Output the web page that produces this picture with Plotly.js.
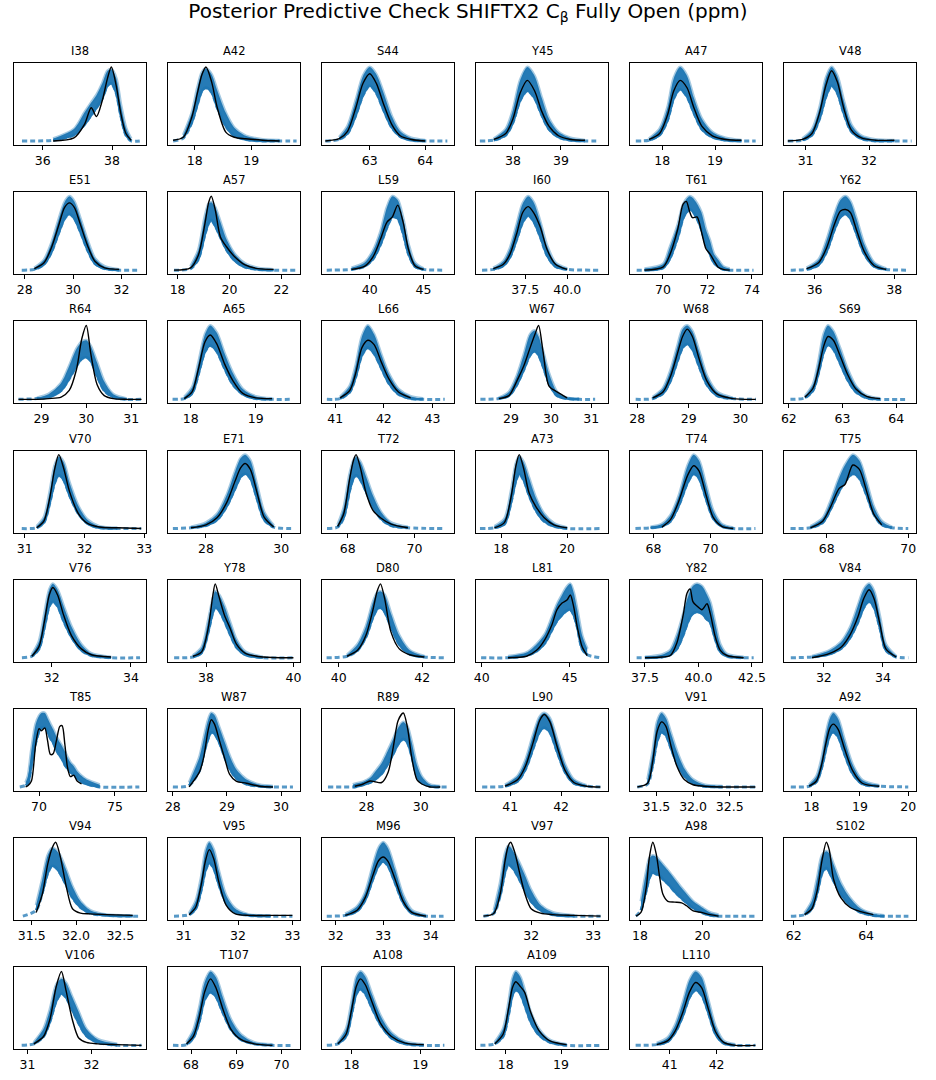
<!DOCTYPE html>
<html><head><meta charset="utf-8">
<script src="https://cdn.plot.ly/plotly-3.0.1.min.js"></script>
<style>body{margin:0;background:#fff}#chart{width:936px;height:1080px}</style>
</head><body><div id="chart"></div>
<script>
const names = ['I38','A42','S44','Y45','A47','V48','E51','A57','L59','I60','T61','Y62','R64','A65','L66','W67','W68','S69','V70','E71','T72','A73','T74','T75','V76','Y78','D80','L81','Y82','V84','T85','W87','R89','L90','V91','A92','V94','V95','M96','V97','A98','S102','V106','T107','A108','A109','L110'];

const xRanges = [
[35.17,38.98],[17.53,19.86],[62.14,64.52],[37.23,39.98],[17.39,19.89],[30.66,32.74],
[27.56,33.01],[17.63,22.72],[35.56,47.83],[34.57,42.43],[68.52,74.45],[35.23,38.55],
[28.39,31.33],[17.65,19.68],[40.73,43.44],[28.13,31.42],[27.86,30.42],[61.91,64.37],
[30.82,33.03],[26.99,30.5],[67.23,71.18],[17.24,21.24],[67.18,71.81],[66.95,70.19],
[31.05,34.38],[37.13,40.15],[39.6,42.76],[39.68,47.18],[36.8,42.97],[30.65,35.12],
[68.35,77.05],[27.91,30.35],[26.36,31.23],[40.33,42.92],[31.14,32.94],[17.43,20.16],
[31.3,32.79],[30.71,33.14],[31.71,34.49],[31.11,33.24],[17.68,21.9],[61.73,65.38],
[30.79,32.85],[67.49,70.41],[17.57,19.49],[17.46,19.85],[40.15,42.97]];

const tickLabels = [
['36','38'],['18','19'],['63','64'],['38','39'],['18','19'],['31','32'],
['28','30','32'],['18','20','22'],['40','45'],['37.5','40.0'],['70','72','74'],['36','38'],
['29','30','31'],['18','19'],['41','42','43'],['29','30','31'],['28','29','30'],['62','63','64'],
['31','32','33'],['28','30'],['68','70'],['18','20'],['68','70'],['68','70'],
['32','34'],['38','40'],['40','42'],['40','45'],['37.5','40.0','42.5'],['32','34'],
['70','75'],['28','29','30'],['28','30'],['41','42'],['31.5','32.0','32.5'],['18','19','20'],
['31.5','32.0','32.5'],['31','32','33'],['32','33','34'],['32','33'],['18','20'],['62','64'],
['31','32'],['68','69','70'],['18','19'],['18','19'],['41','42']];

const gridX = [
[35.4,36.3,36.9,37.2,37.4,37.55,37.72,37.87,37.98,38.12,38.25,38.4,38.55,38.8],
[17.62,17.8,17.95,18.05,18.13,18.2,18.3,18.4,18.55,18.7,18.9,19.2,19.5,19.8],
[62.2,62.45,62.6,62.75,62.88,63.0,63.12,63.25,63.4,63.55,63.75,64.0,64.4],
[37.31,37.6,37.85,38.0,38.15,38.3,38.45,38.6,38.75,38.95,39.2,39.5,39.8],
[17.5,17.75,17.95,18.1,18.22,18.34,18.47,18.6,18.75,18.95,19.2,19.5,19.77],
[30.72,30.95,31.1,31.22,31.32,31.41,31.5,31.6,31.72,31.88,32.1,32.4,32.67],
[27.88,28.4,28.8,29.1,29.4,29.65,29.85,30.05,30.3,30.6,30.9,31.3,31.9,32.77],
[17.86,18.5,18.8,19.05,19.2,19.3,19.45,19.65,19.88,20.2,20.6,21.1,21.7,22.58],
[36.0,38.3,39.5,40.3,41.0,41.6,42.1,42.6,43.1,43.6,44.2,45.0,46.94],
[34.93,35.6,36.2,36.6,37.0,37.35,37.68,38.0,38.4,38.8,39.3,40.0,41.96],
[68.82,69.17,70.0,70.3,70.67,70.9,71.05,71.2,71.33,71.53,71.73,71.93,72.11,72.29,72.48,72.71,73.0,74.07],
[35.4,35.8,36.1,36.3,36.5,36.65,36.78,36.9,37.05,37.25,37.5,37.8,38.36],
[28.49,28.9,29.16,29.44,29.62,29.78,29.9,30.0,30.1,30.24,30.4,30.6,30.9,31.23],
[17.72,17.9,18.02,18.12,18.22,18.3,18.4,18.52,18.65,18.8,19.0,19.25,19.57],
[40.83,41.1,41.3,41.42,41.55,41.67,41.8,41.95,42.1,42.3,42.55,42.8,43.25],
[28.24,28.7,28.95,29.15,29.32,29.48,29.6,29.69,29.8,29.95,30.15,30.4,30.7,31.1],
[27.97,28.3,28.5,28.65,28.78,28.88,28.97,29.07,29.2,29.35,29.55,29.85,30.3],
[62.03,62.3,62.45,62.55,62.65,62.73,62.83,62.95,63.1,63.25,63.45,63.7,64.22],
[30.95,31.2,31.32,31.42,31.5,31.57,31.65,31.75,31.9,32.05,32.25,32.55,32.95],
[27.12,27.6,28.0,28.3,28.55,28.78,28.92,29.04,29.18,29.35,29.55,29.8,30.32],
[67.38,67.7,67.88,68.05,68.17,68.25,68.38,68.55,68.75,69.0,69.3,69.8,70.89],
[17.36,17.8,18.1,18.3,18.45,18.55,18.68,18.85,19.05,19.3,19.6,20.0,20.99],
[67.37,67.9,68.3,68.6,68.9,69.2,69.41,69.6,69.85,70.1,70.4,70.8,71.58],
[67.11,67.6,67.9,68.1,68.3,68.45,68.64,68.8,68.98,69.15,69.35,69.6,70.0],
[31.25,31.5,31.68,31.82,31.94,32.03,32.15,32.3,32.5,32.75,33.0,33.5,34.23],
[37.27,37.7,37.9,38.05,38.15,38.21,38.3,38.42,38.55,38.7,38.9,39.3,40.0],
[39.71,40.2,40.45,40.65,40.82,40.92,41.0,41.1,41.25,41.45,41.7,42.05,42.53],
[39.97,41.5,42.55,43.12,43.6,44.0,44.28,44.57,44.85,45.04,45.23,45.43,45.71,46.0,46.77],
[37.11,37.5,38.3,38.68,38.99,39.3,39.46,39.61,39.74,39.93,40.16,40.4,40.55,40.79,41.02,41.33,42.11,42.58],
[30.88,31.6,32.2,32.6,32.9,33.15,33.35,33.53,33.7,33.9,34.1,34.45,34.86],
[68.73,69.12,69.28,69.5,69.78,70.0,70.16,70.38,70.56,70.75,70.93,71.15,71.37,71.52,71.7,71.88,72.07,72.29,72.51,72.8,73.13,74.0,76.61],
[28.0,28.3,28.49,28.57,28.65,28.71,28.77,28.86,28.96,29.05,29.17,29.36,29.6,29.85,30.22],
[26.58,27.5,27.57,27.88,28.13,28.31,28.56,28.8,28.99,29.17,29.36,29.51,29.67,29.86,30.04,30.35,30.72,31.0],
[40.45,40.9,41.15,41.3,41.45,41.58,41.67,41.78,41.92,42.08,42.25,42.5,42.77],
[31.24,31.38,31.45,31.51,31.57,31.63,31.7,31.78,31.88,32.0,32.15,32.4,32.85],
[17.57,17.95,18.1,18.2,18.3,18.38,18.45,18.55,18.68,18.85,19.05,19.4,20.0],
[31.4,31.55,31.62,31.68,31.73,31.77,31.82,31.89,31.96,32.05,32.16,32.35,32.64,32.72],
[30.82,31.1,31.22,31.32,31.4,31.47,31.55,31.65,31.78,31.95,32.2,32.6,33.0],
[31.81,32.2,32.45,32.62,32.78,32.9,33.0,33.1,33.25,33.42,33.6,33.9,34.27],
[31.23,31.4,31.5,31.58,31.63,31.67,31.73,31.81,31.9,32.0,32.15,32.35,32.7,33.12],
[17.87,18.03,18.2,18.3,18.41,18.52,18.63,18.73,18.89,19.11,19.33,19.49,19.7,19.97,20.24,20.51,21.69],
[61.92,62.3,62.5,62.65,62.78,62.9,62.98,63.1,63.3,63.55,63.85,64.2,64.5,65.17],
[30.91,31.1,31.25,31.35,31.45,31.53,31.6,31.7,31.8,31.92,32.1,32.4,32.78],
[67.6,67.9,68.05,68.18,68.3,68.43,68.55,68.7,68.88,69.1,69.4,69.8,70.27],
[17.64,17.8,17.92,18.0,18.07,18.13,18.2,18.3,18.42,18.58,18.78,19.05,19.35],
[17.54,17.8,17.95,18.05,18.12,18.18,18.26,18.34,18.45,18.6,18.8,19.1,19.72],
[40.27,40.72,40.95,41.12,41.28,41.42,41.55,41.68,41.82,41.98,42.15,42.4,42.83]];

const obsY = [
[null,0.0,0.04,0.22,0.45,0.33,0.55,0.85,1.0,0.75,0.38,0.1,0.01,null],
[0.01,0.05,0.32,0.65,0.9,1.0,0.8,0.45,0.12,0.05,0.03,0.01,0.0,null],
[0.0,0.03,0.13,0.45,0.78,0.91,0.78,0.5,0.22,0.07,0.02,0.0,null],
[null,0.02,0.1,0.3,0.65,0.82,0.68,0.4,0.2,0.07,0.02,0.01,null],
[null,0.02,0.1,0.35,0.68,0.82,0.72,0.45,0.2,0.07,0.02,0.01,null],
[0.0,0.02,0.1,0.38,0.75,0.95,0.8,0.45,0.15,0.04,0.01,0.01,null],
[null,0.02,0.1,0.3,0.6,0.85,0.91,0.85,0.62,0.33,0.12,0.03,0.01,null],
[0.0,0.03,0.2,0.62,0.92,1.0,0.82,0.45,0.32,0.18,0.07,0.02,0.01,null],
[null,0.01,0.05,0.18,0.42,0.65,0.72,0.88,0.65,0.28,0.06,0.01,null],
[null,0.02,0.08,0.22,0.5,0.78,0.86,0.78,0.58,0.28,0.08,0.01,null],
[null,0.0,0.04,0.2,0.56,0.89,0.93,0.79,0.71,0.72,0.52,0.29,0.22,0.13,0.04,0.01,0.0,null],
[null,0.02,0.1,0.3,0.62,0.8,0.82,0.78,0.55,0.25,0.06,0.01,null],
[0.0,0.0,0.01,0.03,0.12,0.4,0.82,1.0,0.62,0.2,0.05,0.01,0.0,0.0],
[null,0.01,0.1,0.42,0.78,0.87,0.75,0.48,0.25,0.08,0.02,0.01,null],
[null,0.02,0.12,0.35,0.7,0.8,0.74,0.5,0.28,0.1,0.02,null,null],
[null,0.01,0.05,0.25,0.45,0.7,0.88,1.0,0.65,0.18,0.1,0.02,null,null],
[null,0.02,0.1,0.32,0.62,0.85,0.95,0.85,0.55,0.25,0.07,0.01,0.0],
[null,0.03,0.15,0.4,0.72,0.85,0.8,0.6,0.33,0.14,0.04,0.01,null],
[null,0.01,0.1,0.42,0.8,1.0,0.82,0.5,0.2,0.07,0.02,0.01,0.0],
[null,0.01,0.05,0.15,0.35,0.65,0.82,0.88,0.8,0.5,0.15,0.02,null],
[null,0.03,0.2,0.65,0.92,1.0,0.82,0.48,0.25,0.14,0.06,0.01,null],
[null,0.01,0.08,0.42,0.85,1.0,0.82,0.48,0.3,0.15,0.05,0.01,null],
[null,null,0.02,0.12,0.38,0.72,0.85,0.78,0.45,0.15,0.03,0.0,null],
[null,0.01,0.1,0.3,0.54,0.6,0.86,0.8,0.5,0.2,0.05,null,null],
[null,0.02,0.15,0.5,0.85,0.95,0.85,0.58,0.3,0.12,0.04,0.01,null],
[null,0.02,0.08,0.4,0.82,1.0,0.82,0.58,0.4,0.18,0.06,0.01,0.0],
[null,0.02,0.1,0.3,0.65,0.9,1.0,0.8,0.35,0.12,0.04,0.01,null],
[null,0.0,0.02,0.1,0.25,0.45,0.65,0.74,0.78,0.85,0.69,0.42,0.15,0.03,null],
[null,0.0,0.01,0.03,0.2,0.6,0.87,0.93,0.76,0.7,0.65,0.73,0.6,0.28,0.1,0.03,0.0,null],
[null,0.0,0.06,0.15,0.32,0.55,0.8,0.92,0.8,0.45,0.12,0.01,null],
[null,0.0,0.02,0.08,0.58,0.79,0.76,0.8,0.63,0.44,0.45,0.63,0.82,0.83,0.58,0.26,0.14,0.16,0.08,0.04,null,null,null],
[null,0.0,0.2,0.4,0.76,0.91,0.85,0.63,0.38,0.17,0.08,0.05,0.01,0.0,null],
[null,null,0.01,0.04,0.08,0.07,0.06,0.2,0.54,0.9,1.0,0.81,0.4,0.1,0.04,0.0,0.0,null],
[null,0.01,0.1,0.28,0.6,0.9,0.98,0.88,0.55,0.22,0.06,0.01,0.0],
[0.0,0.05,0.35,0.75,0.88,0.82,0.55,0.28,0.1,0.03,0.01,0.0,0.0],
[null,0.01,0.08,0.28,0.6,0.8,0.85,0.78,0.52,0.22,0.05,0.01,null],
[null,0.05,0.3,0.7,0.92,1.0,0.82,0.4,0.1,0.04,0.03,0.02,0.01,null],
[null,0.02,0.12,0.42,0.75,0.9,0.78,0.45,0.15,0.03,0.01,0.01,0.01],
[null,0.01,0.08,0.25,0.55,0.75,0.8,0.74,0.5,0.2,0.05,0.0,null],
[0.0,0.04,0.3,0.75,0.95,1.0,0.88,0.6,0.3,0.1,0.04,0.02,0.01,0.0],
[0.0,0.05,0.39,0.8,1.0,0.84,0.52,0.3,0.2,0.19,0.18,0.14,0.07,0.05,0.02,0.0,null],
[null,0.02,0.1,0.35,0.75,1.0,0.9,0.5,0.25,0.12,0.06,0.02,null,null],
[null,0.02,0.12,0.35,0.8,1.0,0.75,0.35,0.1,0.04,0.02,0.01,0.0],
[null,0.02,0.12,0.38,0.72,0.9,0.78,0.5,0.22,0.08,0.02,0.0,null],
[null,0.02,0.15,0.48,0.8,0.9,0.82,0.58,0.3,0.12,0.03,0.01,null],
[null,0.02,0.15,0.5,0.78,0.86,0.8,0.72,0.45,0.2,0.06,0.01,null],
[null,0.01,0.06,0.2,0.45,0.72,0.85,0.78,0.5,0.18,0.04,0.0,0.0]];

const bandLo = [
[0,0.01,0.08,0.22,0.35,0.45,0.58,0.75,0.78,0.65,0.35,0.08,0.0,0],
[0,0.04,0.25,0.5,0.68,0.72,0.66,0.45,0.2,0.07,0.02,0,0,0],
[0,0.02,0.1,0.35,0.62,0.75,0.65,0.42,0.18,0.06,0.01,0,0],
[0,0.01,0.08,0.25,0.55,0.68,0.58,0.35,0.16,0.05,0.01,0,0],
[0,0.01,0.08,0.28,0.58,0.7,0.6,0.38,0.16,0.05,0.01,0,0],
[0,0.01,0.08,0.3,0.6,0.75,0.65,0.38,0.13,0.03,0.0,0,0],
[0,0.01,0.08,0.24,0.5,0.7,0.76,0.7,0.52,0.27,0.09,0.02,0,0],
[0,0.02,0.15,0.48,0.64,0.68,0.6,0.45,0.28,0.13,0.04,0.01,0,0],
[0,0.01,0.05,0.15,0.35,0.58,0.72,0.7,0.5,0.22,0.05,0.01,0],
[0,0.01,0.06,0.18,0.42,0.65,0.74,0.66,0.45,0.2,0.05,0.01,0],
[0,0.0,0.03,0.15,0.45,0.7,0.78,0.82,0.8,0.7,0.55,0.35,0.22,0.1,0.05,0.01,0,0],
[0,0.01,0.07,0.25,0.55,0.72,0.76,0.7,0.5,0.22,0.05,0.01,0],
[0,0.01,0.03,0.12,0.28,0.45,0.55,0.57,0.52,0.32,0.12,0.03,0.0,0],
[0,0.01,0.08,0.35,0.65,0.73,0.65,0.42,0.2,0.07,0.01,0,0],
[0,0.01,0.1,0.3,0.6,0.7,0.62,0.42,0.22,0.07,0.01,0,0],
[0,0.01,0.05,0.2,0.4,0.6,0.65,0.6,0.45,0.22,0.05,0.01,0,0],
[0,0.01,0.08,0.26,0.52,0.7,0.75,0.68,0.45,0.2,0.05,0.01,0],
[0,0.02,0.12,0.35,0.64,0.74,0.68,0.5,0.26,0.1,0.02,0,0],
[0,0.01,0.08,0.35,0.62,0.72,0.66,0.45,0.2,0.07,0.01,0,0],
[0,0.01,0.04,0.12,0.3,0.55,0.7,0.74,0.68,0.42,0.12,0.02,0],
[0,0.02,0.15,0.5,0.68,0.72,0.66,0.5,0.3,0.13,0.04,0.01,0],
[0,0.01,0.06,0.35,0.65,0.74,0.66,0.45,0.25,0.1,0.03,0,0],
[0,0.01,0.03,0.1,0.32,0.62,0.74,0.68,0.4,0.14,0.03,0,0],
[0,0.01,0.08,0.27,0.5,0.64,0.74,0.68,0.45,0.2,0.05,0.01,0],
[0,0.02,0.12,0.42,0.7,0.76,0.7,0.5,0.28,0.1,0.03,0,0],
[0,0.01,0.07,0.35,0.6,0.68,0.64,0.5,0.32,0.14,0.04,0,0],
[0,0.02,0.1,0.28,0.55,0.66,0.68,0.62,0.42,0.18,0.05,0.01,0],
[0,0.0,0.03,0.09,0.2,0.38,0.5,0.58,0.64,0.65,0.58,0.42,0.12,0.04,0],
[0,0,0.01,0.04,0.12,0.32,0.45,0.55,0.6,0.62,0.6,0.52,0.48,0.25,0.08,0.02,0,0],
[0,0.01,0.05,0.13,0.28,0.48,0.68,0.76,0.68,0.4,0.1,0.01,0],
[0,0.02,0.05,0.3,0.6,0.75,0.8,0.81,0.75,0.66,0.6,0.5,0.42,0.38,0.3,0.25,0.2,0.17,0.12,0.07,0.04,0.0,0],
[0,0.02,0.22,0.45,0.65,0.74,0.72,0.6,0.4,0.25,0.12,0.04,0.01,0,0],
[0,0.0,0.0,0.03,0.06,0.1,0.18,0.32,0.45,0.58,0.65,0.6,0.42,0.15,0.06,0.01,0,0],
[0,0.01,0.08,0.24,0.52,0.75,0.8,0.74,0.48,0.2,0.05,0.01,0],
[0,0.04,0.3,0.62,0.74,0.7,0.52,0.32,0.15,0.05,0.01,0,0],
[0,0.01,0.07,0.24,0.52,0.7,0.74,0.68,0.45,0.18,0.04,0.01,0],
[0,0.08,0.32,0.58,0.68,0.66,0.58,0.42,0.25,0.12,0.04,0.01,0,0],
[0,0.02,0.1,0.35,0.62,0.72,0.65,0.42,0.18,0.05,0.01,0,0],
[0,0.01,0.07,0.22,0.5,0.68,0.74,0.68,0.45,0.18,0.04,0,0],
[0,0.04,0.28,0.6,0.7,0.68,0.62,0.5,0.35,0.2,0.08,0.02,0,0],
[0,0.08,0.35,0.52,0.59,0.57,0.55,0.5,0.44,0.33,0.24,0.18,0.11,0.05,0.01,0.0,0],
[0,0.02,0.1,0.32,0.58,0.65,0.6,0.48,0.3,0.15,0.05,0.01,0,0],
[0,0.02,0.12,0.32,0.6,0.7,0.65,0.48,0.3,0.13,0.04,0,0],
[0,0.01,0.1,0.32,0.62,0.72,0.66,0.45,0.22,0.08,0.02,0,0],
[0,0.02,0.12,0.42,0.7,0.76,0.7,0.5,0.28,0.1,0.02,0,0],
[0,0.02,0.12,0.42,0.68,0.75,0.7,0.55,0.32,0.14,0.04,0,0],
[0,0.01,0.05,0.18,0.4,0.65,0.75,0.68,0.45,0.15,0.03,0,0]];

const bandHi = [
[0.01,0.03,0.16,0.38,0.52,0.62,0.78,0.95,0.97,0.85,0.5,0.18,0.03,0.01],
[0.01,0.08,0.38,0.72,0.93,0.98,0.9,0.68,0.38,0.18,0.07,0.02,0.01,0.01],
[0.01,0.05,0.2,0.55,0.88,1.0,0.9,0.65,0.33,0.13,0.04,0.01,0.01],
[0.01,0.03,0.16,0.42,0.82,1.0,0.88,0.58,0.3,0.12,0.04,0.01,0.01],
[0.01,0.03,0.16,0.45,0.85,1.0,0.88,0.58,0.3,0.12,0.04,0.01,0.01],
[0.01,0.03,0.15,0.45,0.85,1.0,0.88,0.55,0.22,0.07,0.02,0.01,0],
[0.01,0.03,0.14,0.36,0.68,0.92,1.0,0.93,0.7,0.4,0.16,0.05,0.01,0.01],
[0.01,0.05,0.27,0.72,0.9,0.92,0.85,0.65,0.42,0.22,0.09,0.03,0.01,0.01],
[0.01,0.03,0.1,0.26,0.52,0.85,1.0,0.95,0.7,0.35,0.1,0.02,0.01],
[0.01,0.03,0.12,0.3,0.62,0.9,1.0,0.92,0.65,0.33,0.1,0.02,0.01],
[0.01,0.02,0.08,0.3,0.62,0.88,0.96,1.0,0.98,0.9,0.78,0.55,0.4,0.22,0.14,0.05,0.02,0.01],
[0.01,0.03,0.14,0.4,0.75,0.95,1.0,0.93,0.7,0.35,0.1,0.02,0.01],
[0.01,0.02,0.07,0.22,0.45,0.68,0.78,0.8,0.72,0.5,0.24,0.07,0.01,0.01],
[0.01,0.03,0.16,0.5,0.88,1.0,0.9,0.62,0.35,0.14,0.04,0.01,0.01],
[0.01,0.03,0.18,0.45,0.85,1.0,0.88,0.6,0.35,0.14,0.04,0.01,0.01],
[0.01,0.02,0.1,0.32,0.6,0.88,0.93,0.85,0.65,0.35,0.1,0.02,0.01,0.01],
[0.01,0.03,0.15,0.4,0.72,0.95,1.0,0.92,0.65,0.32,0.1,0.02,0.01],
[0.01,0.04,0.2,0.5,0.88,1.0,0.92,0.7,0.4,0.18,0.05,0.01,0.01],
[0.01,0.03,0.15,0.5,0.85,0.97,0.9,0.62,0.3,0.12,0.03,0.01,0.01],
[0.01,0.02,0.08,0.2,0.45,0.78,0.95,1.0,0.92,0.6,0.22,0.04,0.01],
[0.01,0.05,0.28,0.72,0.92,0.97,0.9,0.7,0.45,0.22,0.08,0.02,0.01],
[0.01,0.03,0.13,0.5,0.88,0.98,0.9,0.68,0.42,0.2,0.07,0.01,0.01],
[0.01,0.02,0.06,0.18,0.45,0.85,1.0,0.92,0.58,0.24,0.06,0.01,0.01],
[0.01,0.03,0.14,0.38,0.68,0.86,1.0,0.92,0.62,0.3,0.1,0.02,0.01],
[0.01,0.04,0.22,0.6,0.92,1.0,0.92,0.7,0.42,0.18,0.06,0.01,0.01],
[0.01,0.03,0.14,0.5,0.78,0.9,0.85,0.7,0.48,0.24,0.08,0.01,0.01],
[0.01,0.04,0.18,0.42,0.75,0.88,0.9,0.85,0.6,0.3,0.1,0.02,0.01],
[0.01,0.02,0.07,0.18,0.32,0.55,0.72,0.85,0.96,1.0,0.88,0.65,0.3,0.12,0.01],
[0.01,0.01,0.04,0.1,0.3,0.6,0.78,0.9,0.97,1.0,0.97,0.85,0.75,0.45,0.18,0.05,0.01,0.01],
[0.01,0.02,0.1,0.22,0.42,0.7,0.92,1.0,0.9,0.55,0.18,0.02,0.01],
[0.01,0.06,0.15,0.5,0.85,0.96,1.0,1.0,0.93,0.85,0.78,0.68,0.6,0.55,0.48,0.4,0.33,0.28,0.21,0.15,0.1,0.03,0.01],
[0.01,0.06,0.4,0.65,0.9,1.0,0.97,0.8,0.6,0.42,0.24,0.1,0.03,0.01,0.01],
[0.01,0.03,0.04,0.07,0.12,0.2,0.32,0.5,0.65,0.8,0.88,0.82,0.6,0.3,0.14,0.03,0.01,0.01],
[0.01,0.03,0.15,0.36,0.7,0.95,1.0,0.93,0.64,0.3,0.1,0.02,0.01],
[0.01,0.1,0.48,0.88,1.0,0.93,0.72,0.48,0.25,0.1,0.03,0.01,0.0],
[0.01,0.03,0.14,0.36,0.72,0.93,1.0,0.92,0.64,0.3,0.09,0.02,0.01],
[0.01,0.15,0.5,0.82,0.92,0.9,0.82,0.62,0.4,0.2,0.08,0.02,0.01,0.01],
[0.01,0.04,0.2,0.52,0.88,1.0,0.9,0.6,0.28,0.1,0.02,0.01,0.01],
[0.01,0.03,0.13,0.32,0.68,0.92,1.0,0.92,0.63,0.28,0.08,0.01,0.01],
[0.01,0.08,0.45,0.85,0.95,0.93,0.85,0.72,0.55,0.35,0.15,0.05,0.01,0.01],
[0.01,0.2,0.6,0.78,0.82,0.8,0.75,0.7,0.62,0.5,0.38,0.3,0.2,0.12,0.05,0.02,0.01],
[0.01,0.04,0.2,0.52,0.82,0.88,0.85,0.7,0.45,0.25,0.1,0.03,0.01,0.01],
[0.01,0.04,0.22,0.48,0.82,0.9,0.85,0.65,0.45,0.22,0.08,0.02,0.01],
[0.01,0.04,0.2,0.5,0.85,1.0,0.92,0.65,0.35,0.15,0.04,0.01,0.01],
[0.01,0.04,0.22,0.58,0.92,1.0,0.93,0.68,0.4,0.17,0.05,0.01,0.01],
[0.01,0.04,0.22,0.58,0.9,1.0,0.93,0.75,0.45,0.22,0.07,0.01,0.01],
[0.01,0.03,0.1,0.28,0.58,0.88,1.0,0.92,0.62,0.25,0.06,0.01,0.01]];

const BLUE = '#1f77b4';
const FONT = 'DejaVu Sans, sans-serif';
const W = 936, H = 1080;
const traces = [];
const annotations = [];
const layout = {
  width: W, height: H,
  margin: {l: 0, r: 0, t: 0, b: 0},
  paper_bgcolor: '#ffffff', plot_bgcolor: '#ffffff',
  showlegend: false,
  font: {family: FONT, color: '#000000'},
  title: {text: 'Posterior Predictive Check SHIFTX2 C<sub>β</sub> Fully Open (ppm)',
          font: {family: FONT, size: 20, color: '#000000'},
          x: 0.5, xanchor: 'center', xref: 'container',
          y: 1 - 4 / H, yanchor: 'top', yref: 'container'},
  annotations: annotations
};

names.forEach((nm, i) => {
  const col = i % 6, row = Math.floor(i / 6);
  const ax = i === 0 ? '' : String(i + 1);
  const L = 14 + col * 154, T = 63 + row * 129.2, PW = 132, PH = 82;
  layout['xaxis' + ax] = {
    domain: [L / W, (L + PW) / W], anchor: 'y' + ax,
    range: xRanges[i],
    tickmode: 'array', tickvals: tickLabels[i].map(Number), ticktext: tickLabels[i],
    ticks: 'outside', ticklen: 4, tickwidth: 1, tickcolor: '#000',
    tickfont: {family: FONT, size: 12.5, color: '#000'},
    showline: true, mirror: true, linecolor: '#000', linewidth: 1,
    showgrid: false, zeroline: false, fixedrange: true
  };
  layout['yaxis' + ax] = {
    domain: [1 - (T + PH) / H, 1 - T / H], anchor: 'x' + ax,
    range: [-0.055, 1.055],
    showticklabels: false, ticks: '',
    showline: true, mirror: true, linecolor: '#000', linewidth: 1,
    showgrid: false, zeroline: false, fixedrange: true
  };
  const xa = 'x' + ax, ya = 'y' + ax;
  const n = gridX[i].length;
  traces.push({type: 'scatter', mode: 'lines', x: gridX[i], y: bandLo[i], xaxis: xa, yaxis: ya,
    line: {color: 'rgba(31,119,180,0.75)', width: 3, dash: '5px,3px', shape: 'spline', smoothing: 0.8}, hoverinfo: 'skip'});
  traces.push({type: 'scatter', mode: 'lines', x: gridX[i].slice(1, n - 1), y: bandLo[i].slice(1, n - 1), xaxis: xa, yaxis: ya,
    line: {color: BLUE, width: 2.5, shape: 'spline', smoothing: 0.8}, hoverinfo: 'skip'});
  traces.push({type: 'scatter', mode: 'lines', x: gridX[i].slice(1, n - 1), y: bandHi[i].slice(1, n - 1), xaxis: xa, yaxis: ya,
    fill: 'tonexty', fillcolor: 'rgba(31,119,180,0.97)',
    line: {color: 'rgba(31,119,180,0.4)', width: 3, shape: 'spline', smoothing: 0.8}, hoverinfo: 'skip'});
  traces.push({type: 'scatter', mode: 'lines', x: gridX[i], y: obsY[i], xaxis: xa, yaxis: ya,
    connectgaps: false,
    line: {color: '#000000', width: 1.4, shape: 'spline', smoothing: 0.8}, hoverinfo: 'skip'});
  annotations.push({text: nm, xref: 'paper', yref: 'paper', x: (L + PW / 2) / W, y: 1 - (T - 3) / H,
    xanchor: 'center', yanchor: 'bottom', showarrow: false,
    font: {family: FONT, size: 11.5, color: '#000'}});
});

Plotly.newPlot('chart', traces, layout, {staticPlot: true, displayModeBar: false});
</script>
</body></html>
